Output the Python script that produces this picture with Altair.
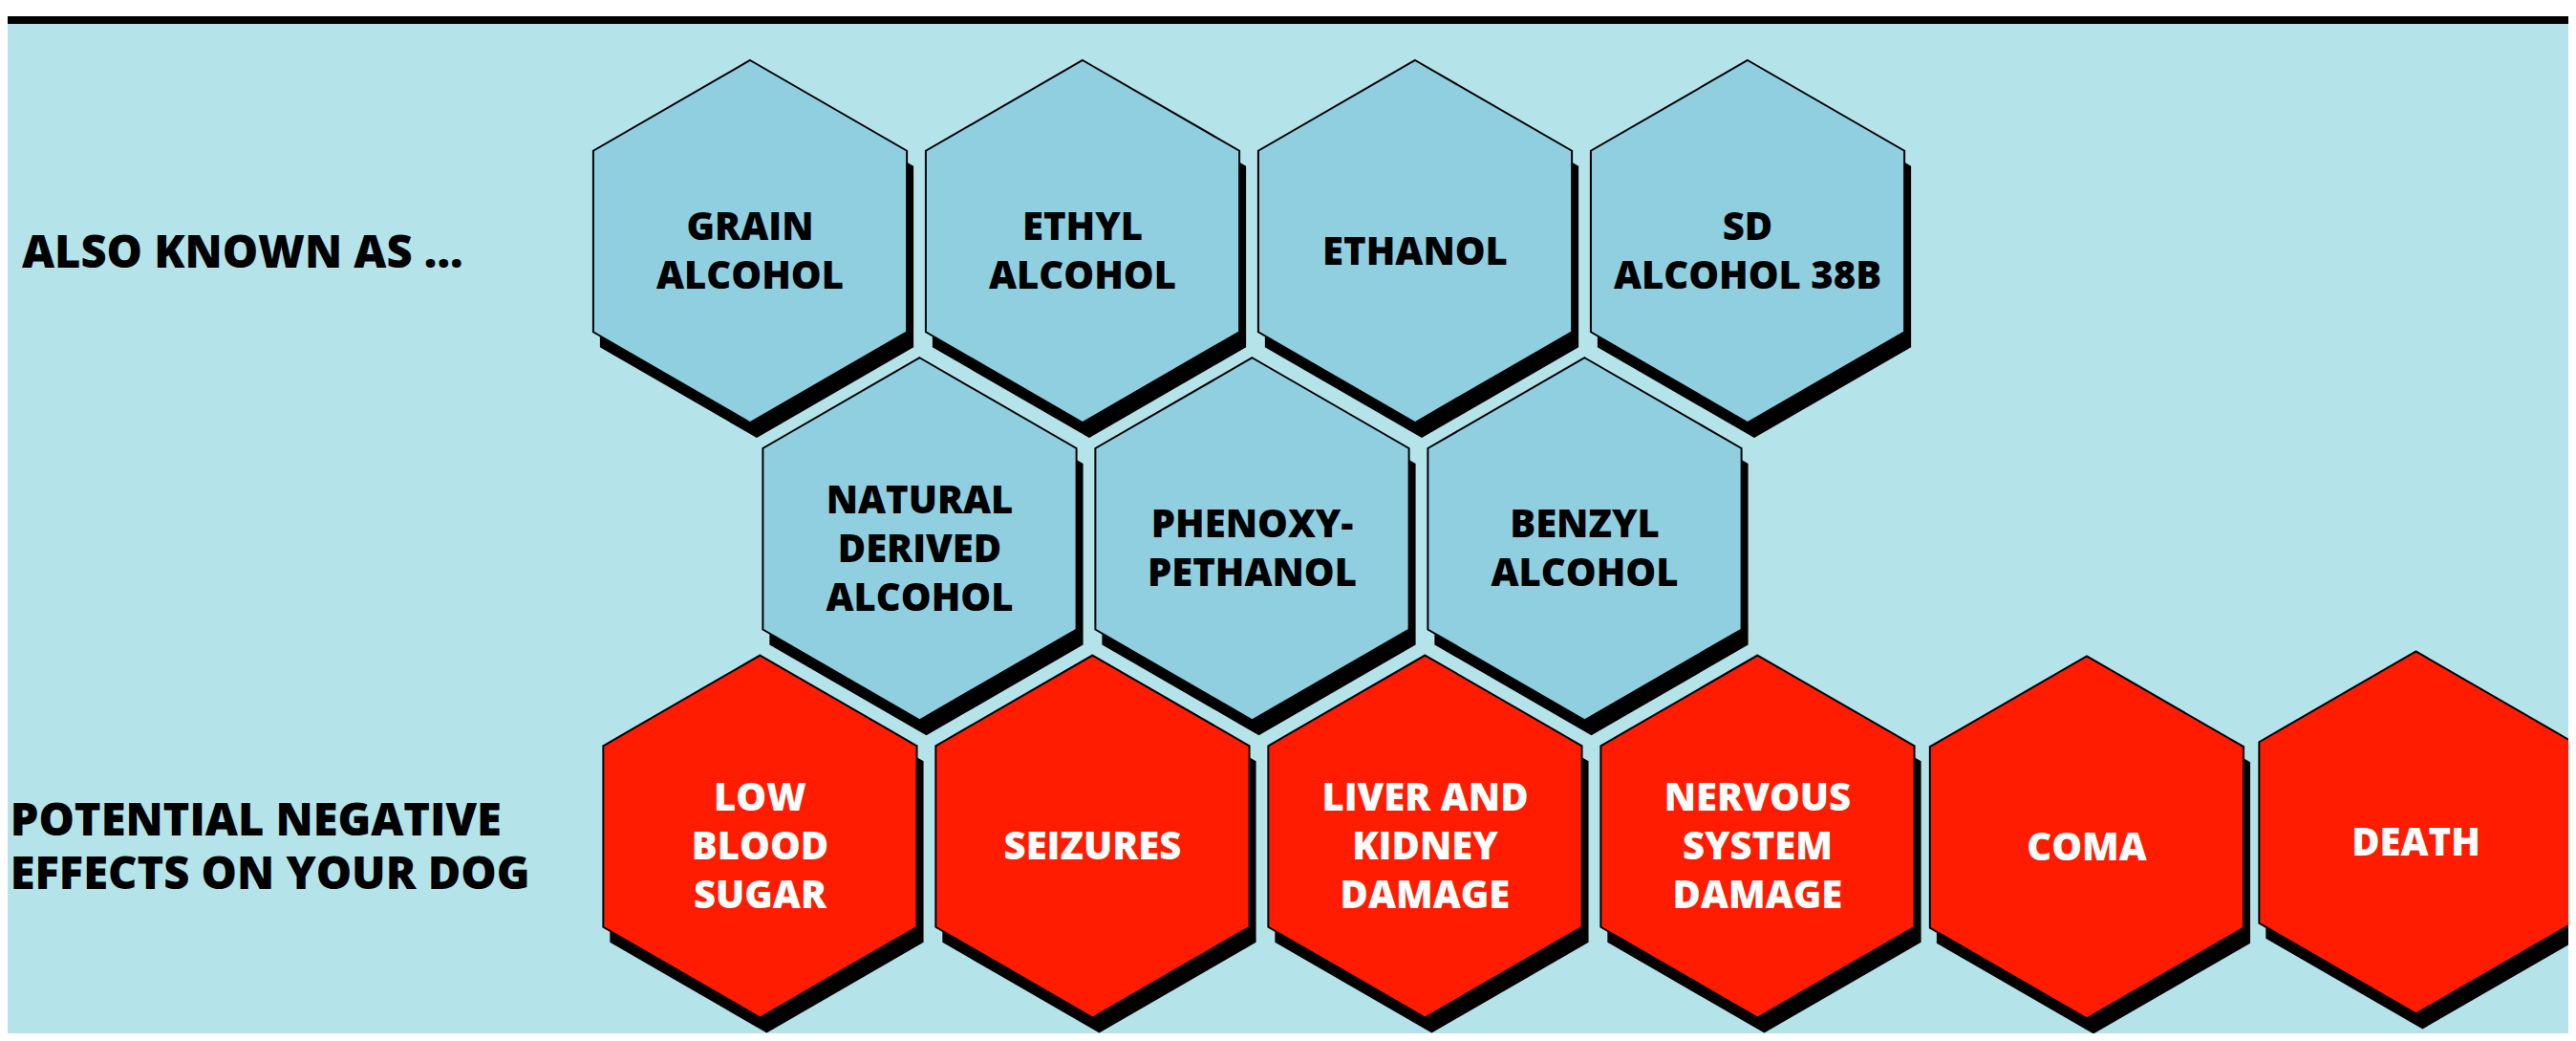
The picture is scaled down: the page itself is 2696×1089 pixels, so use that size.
import altair as alt
import pandas as pd

# ---------------- data ----------------
groups = ["Also known as", "Potential negative effects"]

synonyms = ["GRAIN\nALCOHOL", "ETHYL\nALCOHOL", "ETHANOL", "SD\nALCOHOL 38B",
            "NATURAL\nDERIVED\nALCOHOL", "PHENOXY-\nPETHANOL", "BENZYL\nALCOHOL"]
synonym_col = [0, 1, 2, 3, 0.51, 1.51, 2.51]
synonym_row = [0, 0, 0, 0, 1, 1, 1]

effects = ["LOW\nBLOOD\nSUGAR", "SEIZURES", "LIVER AND\nKIDNEY\nDAMAGE",
           "NERVOUS\nSYSTEM\nDAMAGE", "COMA", "DEATH"]
effect_col = [0.03, 1.03, 2.03, 3.03, 4.02, 5.01]
effect_row = [2, 2, 2, 2, 2.003, 1.987]

headings = ["ALSO KNOWN AS ...", "POTENTIAL NEGATIVE\nEFFECTS ON YOUR DOG"]
heading_col = [-2.19, -2.225]
heading_row = [0, 2]

cells = pd.DataFrame({
    "label": synonyms + effects,
    "col": synonym_col + effect_col,
    "row": synonym_row + effect_row,
    "group": [groups[0]] * len(synonyms) + [groups[1]] * len(effects),
})
heads = pd.DataFrame({"heading": headings, "col": heading_col, "row": heading_row})

# ---------------- chart ----------------
W, H = 2680, 1073
Y_LO, Y_HI = -0.78554, 2.6618
PX_PER_ROW = H / (Y_HI - Y_LO)
xs = alt.Scale(domain=[-2.2328, 5.4684], nice=False, zero=False)
ys = alt.Scale(domain=[Y_LO, Y_HI], nice=False, zero=False, reverse=True)
X = alt.X("col:Q", scale=xs, axis=None)

HEX = "M0,-1L0.866,-0.5L0.866,0.5L0,1L-0.866,0.5L-0.866,-0.5Z"
SIZE = 379 ** 2
LH = 51      # line height of hexagon labels
HLH = 56     # line height of the row headings

base = alt.Chart(cells).encode(x=X, y=alt.Y("row:Q", scale=ys, axis=None))

shadow = base.mark_point(shape=HEX, size=SIZE, filled=True, color="black",
                         opacity=1, xOffset=7, yOffset=16)

hexes = base.mark_point(shape=HEX, size=SIZE, filled=True, opacity=1,
                        stroke="black", strokeWidth=2).encode(
    fill=alt.Fill("group:N", scale=alt.Scale(domain=groups, range=["#8FCFE0", "#FF1C00"]),
                  legend=None)
)

# centre multi-line text blocks vertically on the hexagon centre
labels = alt.Chart(cells).transform_calculate(
    nlines="length(split(datum.label, '\\n'))",
).transform_calculate(
    trow=f"datum.row - (datum.nlines - 1) / 2 * {LH} / {PX_PER_ROW}"
).mark_text(font="Open Sans", fontSize=40, fontWeight=800, lineBreak="\n",
            lineHeight=LH, align="center", baseline="middle", dy=12).encode(
    x=X,
    y=alt.Y("trow:Q", scale=ys, axis=None),
    text="label:N",
    color=alt.Color("group:N", scale=alt.Scale(domain=groups, range=["#000000", "#FFFFFF"]),
                    legend=None),
)

head_text = alt.Chart(heads).transform_calculate(
    nlines="length(split(datum.heading, '\\n'))",
).transform_calculate(
    trow=f"datum.row - (datum.nlines - 1) / 2 * {HLH} / {PX_PER_ROW}"
).mark_text(font="Open Sans", fontSize=47, fontWeight=800,
            lineBreak="\n", lineHeight=HLH, align="left",
            baseline="middle", dy=13, color="black").encode(
    x=X, y=alt.Y("trow:Q", scale=ys, axis=None), text="heading:N"
)

strip = pd.DataFrame({"k": [0]})
white_top = alt.Chart(strip).mark_rect(color="white").encode(
    x=alt.value(0), x2=alt.value(W), y=alt.value(0), y2=alt.value(9))
black_bar = alt.Chart(strip).mark_rect(color="black").encode(
    x=alt.value(0), x2=alt.value(W), y=alt.value(9), y2=alt.value(17))

chart = alt.layer(white_top, black_bar, shadow, hexes, labels, head_text).resolve_scale(
    color="independent", fill="independent"
).properties(
    width=W, height=H, background="#B4E3EA", padding=0, autosize="none"
).configure_view(strokeWidth=0)

chart.save("out.html", embed_options={"renderer": "svg", "actions": False})
